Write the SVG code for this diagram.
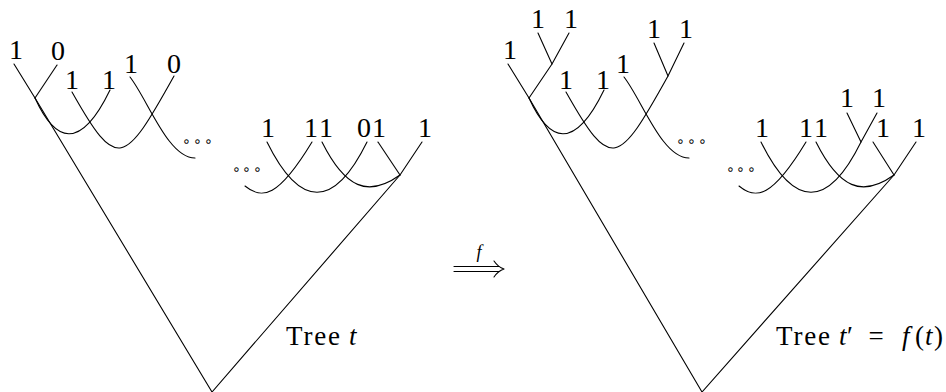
<svg xmlns="http://www.w3.org/2000/svg" width="946" height="392" viewBox="0 0 946 392">
  <defs>
    <style>
      .edge { fill: none; stroke: #000; stroke-width: 1.1; stroke-linecap: round; stroke-linejoin: round; }
      .lbl { font-family: "Liberation Serif", "DejaVu Serif", serif; font-size: 28px; fill: #000; text-anchor: middle; }
      .cap { font-family: "Liberation Serif", "DejaVu Serif", serif; font-size: 27px; fill: #000; }
      .it { font-style: italic; }
      .dots { font-family: "DejaVu Sans", sans-serif; font-size: 14px; fill: #000; }
    </style>
  </defs>
  <rect width="946" height="392" fill="#fff"/>

  <!-- Tree t -->
  <g id="tree-t">
    <g id="tree-t-edges">
      <polyline class="edge" points="212,392 35,98 14,64"/>
      <line class="edge" x1="35" y1="98" x2="57" y2="65"/>
      <path class="edge" d="M35 98 C55 142 80 152 110 90"/>
      <path class="edge" d="M72 92 C117 172 124 166 174 76"/>
      <path class="edge" d="M130 77 C148 100 168 158 195 158"/>
      <path class="edge" d="M245 186 C262 200 278 198 312 142"/>
      <path class="edge" d="M267 142 C300 209 334 209 367 142"/>
      <path class="edge" d="M322 142 C345 188 368 198 400 175"/>
      <line class="edge" x1="378" y1="142" x2="400" y2="175"/>
      <polyline class="edge" points="212,392 400,175 422,142"/>
    </g>
    <g id="tree-t-leaves">
      <text class="lbl" x="16" y="59">1</text>
      <text class="lbl" x="58" y="60">0</text>
      <text class="lbl" x="72" y="89">1</text>
      <text class="lbl" x="109" y="89">1</text>
      <text class="lbl" x="131" y="73">1</text>
      <text class="lbl" x="174" y="73">0</text>
      <text class="dots" x="182 193 204" y="146">∘∘∘</text>
      <text class="dots" x="232 242 253" y="174">∘∘∘</text>
      <text class="lbl" x="268" y="137">1</text>
      <text class="lbl" x="311" y="137">1</text>
      <text class="lbl" x="326" y="137">1</text>
      <text class="lbl" x="364" y="137">0</text>
      <text class="lbl" x="379" y="137">1</text>
      <text class="lbl" x="425" y="137">1</text>
    </g>
    <text class="cap" y="345"><tspan x="286" textLength="54" lengthAdjust="spacing">Tree</tspan><tspan class="it" x="349">t</tspan></text>
  </g>

  <!-- Map f -->
  <g id="map-f">
    <line class="edge" x1="454" y1="266.5" x2="499" y2="266.5"/>
    <line class="edge" x1="454" y1="271.5" x2="499" y2="271.5"/>
    <path class="edge" d="M494 261 Q498 267 504 269 Q498 271 494 277"/>
    <text class="lbl it" x="479" y="258" style="font-size:18px">f</text>
  </g>

  <!-- Tree t' = f(t) -->
  <g id="tree-t-prime">
    <g id="tree-t-prime-edges">
      <polyline class="edge" points="702,392 529,98 508,64"/>
      <line class="edge" x1="529" y1="98" x2="552" y2="64"/>
      <polyline class="edge" points="538,33 552,64 569,33"/>
      <path class="edge" d="M529 98 C549 142 574 152 604 90"/>
      <path class="edge" d="M566 92 C611 172 618 166 668 76"/>
      <polyline class="edge" points="654,43 668,76 684,43"/>
      <path class="edge" d="M624 77 C642 100 662 158 689 158"/>
      <path class="edge" d="M739 186 C756 200 772 198 806 142"/>
      <path class="edge" d="M761 142 C794 209 828 209 861 142"/>
      <polyline class="edge" points="847,113 861,142 877,113"/>
      <path class="edge" d="M816 142 C839 188 862 198 894 175"/>
      <line class="edge" x1="873" y1="142" x2="894" y2="175"/>
      <polyline class="edge" points="702,392 894,175 916,142"/>
    </g>
    <g id="tree-t-prime-leaves">
      <text class="lbl" x="510" y="59">1</text>
      <text class="lbl" x="538" y="28">1</text>
      <text class="lbl" x="571" y="28">1</text>
      <text class="lbl" x="566" y="89">1</text>
      <text class="lbl" x="603" y="89">1</text>
      <text class="lbl" x="623" y="73">1</text>
      <text class="lbl" x="654" y="38">1</text>
      <text class="lbl" x="686" y="38">1</text>
      <text class="dots" x="676 687 698" y="146">∘∘∘</text>
      <text class="dots" x="726 736 747" y="174">∘∘∘</text>
      <text class="lbl" x="762" y="137">1</text>
      <text class="lbl" x="806" y="137">1</text>
      <text class="lbl" x="821" y="137">1</text>
      <text class="lbl" x="847" y="107">1</text>
      <text class="lbl" x="879" y="107">1</text>
      <text class="lbl" x="883" y="137">1</text>
      <text class="lbl" x="919" y="137">1</text>
    </g>
    <text class="cap" y="345"><tspan x="776" textLength="54" lengthAdjust="spacing">Tree</tspan><tspan class="it" x="839">t</tspan><tspan x="847">′</tspan><tspan x="868.5">=</tspan><tspan class="it" x="902">f</tspan><tspan x="915">(</tspan><tspan class="it" x="925">t</tspan><tspan x="934">)</tspan></text>
  </g>
</svg>
